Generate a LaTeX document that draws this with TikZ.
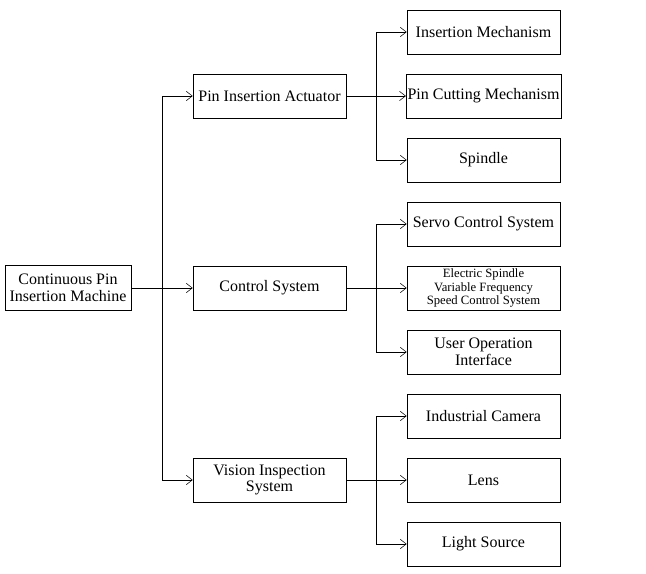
\documentclass[tikz,border=0pt]{standalone}
\usepackage{fontspec}
\setmainfont{Liberation Serif}
\usetikzlibrary{calc,positioning,arrows.meta}

\begin{document}
\begin{tikzpicture}[>={Straight Barb[length=4.5pt,width=7pt]}, x=0.75pt, y=-0.75pt,
        node distance = 14.6pt and 45pt,
        every node/.style = {draw, minimum width=114.75pt, minimum height=33pt, align=center,
                inner sep=1pt, font=\fontsize{12}{12.5}\selectfont},
        small/.style = {font=\fontsize{9.5}{10.3}\selectfont},
    ]
        \useasboundingbox (0,0) rectangle (646,574);

        \node[minimum width=94.5pt, minimum height=34pt] (machine) at (68,288) {Continuous Pin\\Insertion Machine};

        \node (actuator) at (269.5,96) {Pin Insertion Actuator};
        \node (control) at (269.5,288) {Control System};
        \node (vision) at (269.5,480) {Vision Inspection\\System};

        \node (insert) at (483.5,32) {Insertion Mechanism};
        \node[below=of insert] (cutting) {Pin Cutting Mechanism};
        \node[below=of cutting] (spindle) {Spindle};
        \node[below=of spindle] (servo) {Servo Control System};
        \node[below=of servo, small] (vfd) {Electric Spindle\\Variable Frequency\\Speed Control System};
        \node[below=of vfd] (user) {User Operation\\Interface};
        \node[below=of user] (camera) {Industrial Camera};
        \node[below=of camera] (lens) {Lens};
        \node[below=of lens] (light) {Light Source};

        % trunk
        \coordinate (t0) at ($(machine.east)!0.5!(control.west)$);
        \draw[->] (machine) -- (control);
        \draw[->] (t0) |- (actuator);
        \draw[->] (t0) |- (vision);

        % branches
        \coordinate (t1) at ($(actuator.east)!0.5!(cutting.west)$);
        \coordinate (t2) at ($(control.east)!0.5!(vfd.west)$);
        \coordinate (t3) at ($(vision.east)!0.5!(lens.west)$);
        \draw[->] (actuator) -- (cutting);
        \draw[->] (t1) |- (insert);
        \draw[->] (t1) |- (spindle);
        \draw[->] (control) -- (vfd);
        \draw[->] (t2) |- (servo);
        \draw[->] (t2) |- (user);
        \draw[->] (vision) -- (lens);
        \draw[->] (t3) |- (camera);
        \draw[->] (t3) |- (light);
    \end{tikzpicture}
\end{document}
